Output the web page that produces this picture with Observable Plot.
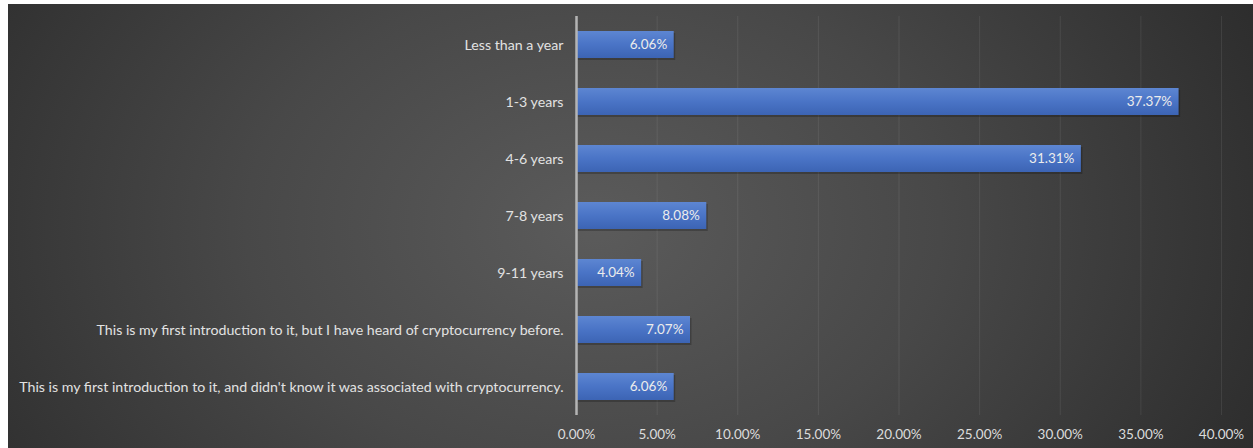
<!DOCTYPE html>
<html>
<head>
<meta charset="utf-8">
<script src="https://cdn.jsdelivr.net/npm/d3@7"></script>
<script src="https://cdn.jsdelivr.net/npm/@observablehq/plot@0.6"></script>
<style>
  html, body { margin: 0; padding: 0; background: #ffffff; }
  #chart {
    position: absolute; left: 8px; top: 4px; width: 1245px; height: 444px;
    background: radial-gradient(ellipse 62% 125% at 47% 50%, #5b5b5b 0%, #484848 45%, #2a2a2a 100%);
  }
  #chart svg { display: block; }
</style>
</head>
<body>
<div id="chart"></div>
<script>
const categories = [
  "Less than a year",
  "1-3 years",
  "4-6 years",
  "7-8 years",
  "9-11 years",
  "This is my first introduction to it, but I have heard of cryptocurrency before.",
  "This is my first introduction to it, and didn't know it was associated with cryptocurrency."
];
const values = [6.06, 37.37, 31.31, 8.08, 4.04, 7.07, 6.06];
const xTicks = [0, 5, 10, 15, 20, 25, 30, 35, 40];

const data = categories.map((c, i) => ({category: c, value: values[i]}));
const fmt = d => d.toFixed(2) + "%";

const chart = Plot.plot({
  width: 1245,
  height: 444,
  marginLeft: 568,
  marginRight: 32,
  marginTop: 12,
  marginBottom: 33,
  style: {fontFamily: "Lato, 'Open Sans', sans-serif", fontSize: "14px", color: "#dcdcdc", background: "transparent"},
  x: {domain: [0, 40], ticks: xTicks, tickFormat: fmt, label: null},
  y: {domain: categories, paddingInner: 0.526, paddingOuter: 0.263, label: null},
  marks: [
    Plot.gridX(xTicks.filter(t => t > 0), {stroke: "#ffffff", strokeOpacity: 0.08, strokeWidth: 1}),
    Plot.barX(data, {x: "value", y: "category", fill: "#000000", fillOpacity: 0.22, dx: 1.5, dy: 2}),
    Plot.barX(data, {x: "value", y: "category", fill: "url(#barGrad)"}),
    Plot.ruleX([0], {stroke: "#b4b4b4", strokeWidth: 2.5}),
    Plot.text(data, {x: "value", y: "category", text: d => fmt(d.value), textAnchor: "end", dx: -7, fill: "#ececec", fontSize: 13.5}),
    Plot.axisX({ticks: xTicks, tickFormat: fmt, tickSize: 0, tickPadding: 14, fontSize: 13.5, fill: "#dcdcdc", label: null}),
    Plot.axisY({tickSize: 0, tickPadding: 13, fontSize: 14.2, fill: "#e2e2e2", label: null})
  ]
});

const svg = d3.select(chart);
const defs = svg.insert("defs", ":first-child");
const g = defs.append("linearGradient").attr("id", "barGrad").attr("x1", 0).attr("y1", 0).attr("x2", 0).attr("y2", 1);
g.append("stop").attr("offset", "0%").attr("stop-color", "#5d86d2");
g.append("stop").attr("offset", "50%").attr("stop-color", "#4a74c6");
g.append("stop").attr("offset", "100%").attr("stop-color", "#3c64b4");

document.getElementById("chart").appendChild(chart);
</script>
</body>
</html>
